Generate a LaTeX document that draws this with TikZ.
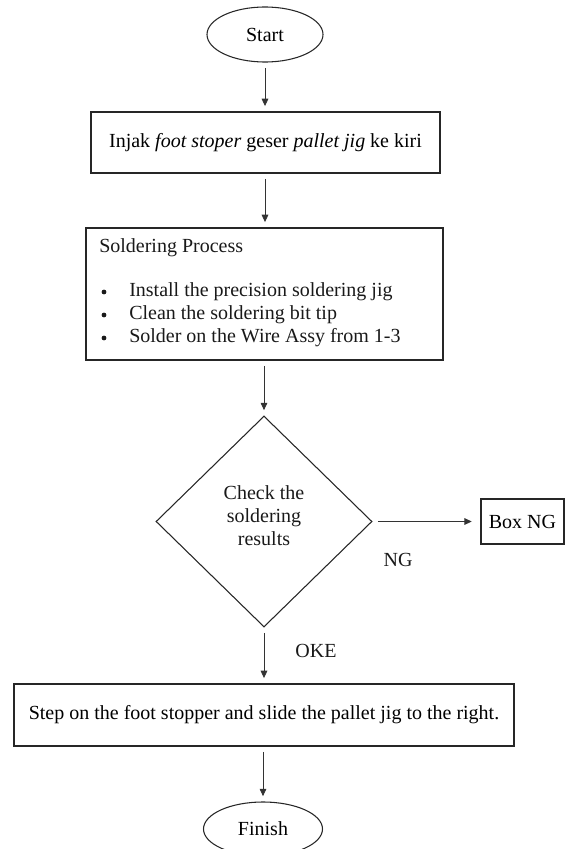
\documentclass[tikz,border=0pt]{standalone}
\usepackage{fontspec}
\setmainfont{Liberation Serif}
\usetikzlibrary{shapes.geometric,arrows.meta}
\begin{document}
\begin{tikzpicture}[x=0.75pt,y=-0.75pt,
  font=\fontsize{15}{17.25}\selectfont,
  box/.style={draw=black!85,line width=0.9pt,rectangle,inner sep=0pt},
  term/.style={draw=black!85,line width=0.8pt,ellipse,inner sep=0pt},
  dec/.style={draw=black!85,line width=0.8pt,diamond,inner sep=0pt},
  lbl/.style={inner sep=0pt,text=black!90},
  dot/.style={circle,fill=black!90,inner sep=0pt,minimum size=3.6pt},
  arr/.style={draw=black!80,line width=0.6pt,-{Triangle[length=5.5pt,width=5pt]},
              shorten <=4pt,shorten >=4pt}]
\useasboundingbox (0,0) rectangle (566,849);
% nodes
\node[term,minimum width=87pt,minimum height=41.25pt] (start) at (265,34.5) {Start};
\node[box,minimum width=261.75pt,minimum height=45.75pt] (b1) at (265.5,142.5)
  {Injak \textit{foot stoper} geser \textit{pallet jig} ke kiri};
\node[box,minimum width=267.75pt,minimum height=99pt] (b2) at (264.5,294) {};
\node[lbl,anchor=west] (t0) at (99,248) {Soldering Process};
\node[dot] (d1) at (104,292) {};
\node[dot] (d2) at (104,315) {};
\node[dot] (d3) at (104,338) {};
\node[lbl,anchor=west] (t1) at (129,292) {Install the precision soldering jig};
\node[lbl,anchor=west] (t2) at (129,315) {Clean the soldering bit tip};
\node[lbl,anchor=west] (t3) at (129,338) {Solder on the Wire Assy from 1-3};
\node[dec,minimum width=162pt,minimum height=158.25pt] (chk) at (264,521.5) {};
\node[lbl,align=center] (chktxt) at (264,516) {Check the\\soldering\\results};
\node[box,minimum width=62.25pt,minimum height=33.75pt] (ng) at (522.5,521.5) {Box NG};
\node[lbl] (nglbl) at (398,560) {NG};
\node[lbl] (oklbl) at (316,651) {OKE};
\node[box,minimum width=375pt,minimum height=46.5pt] (b3) at (264,715)
  {Step on the foot stopper and slide the pallet jig to the right.};
\node[term,minimum width=89.25pt,minimum height=40.5pt] (fin) at (263,829) {Finish};
% connectors
\draw[arr] (start.south) -- (start.south |- b1.north);
\draw[arr] (b1.south -| start.south) -- (start.south |- b2.north);
\draw[arr] (b2.south -| chk.north) -- (chk.north);
\draw[arr,shorten >=6.5pt] (chk.east) -- (ng.west);
\draw[arr] (chk.south) -- (chk.south |- b3.north);
\draw[arr] (b3.south -| fin.north) -- (fin.north);
\end{tikzpicture}
\end{document}
